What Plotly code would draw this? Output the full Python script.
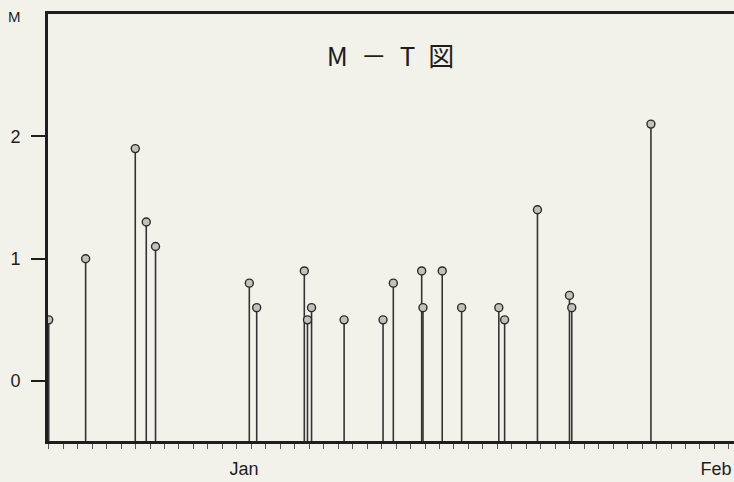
import plotly.graph_objects as go

# days counted from the first minor tick on the time axis
day_list = [0.0, 2.55, 5.98, 6.74, 7.38, 13.86, 14.37, 17.66, 17.88, 18.16,
            20.41, 23.10, 23.81, 25.77, 25.86, 27.19, 28.53, 31.10, 31.50,
            33.77, 35.98, 36.14, 41.61]
mag_list = [0.5, 1.0, 1.9, 1.3, 1.1, 0.8, 0.6, 0.9, 0.5, 0.6,
            0.5, 0.5, 0.8, 0.9, 0.6, 0.9, 0.6, 0.6, 0.5,
            1.4, 0.7, 0.6, 2.1]

month_pos = [13.5, 46.1]
month_text = ["Jan", "Feb"]
m_ticks = [0, 1, 2]

y_bottom = -0.49
y_top = 3.0

# stems from the time axis up to each event
stem_x = []
stem_y = []
for d, m in zip(day_list, mag_list):
    stem_x += [d, d, None]
    stem_y += [y_bottom, m, None]

bg = "#f3f2ea"
ink = "#1e1e1e"

fig = go.Figure()
fig.add_trace(go.Scatter(x=stem_x, y=stem_y, mode="lines",
                         line=dict(color="#333333", width=1.6),
                         hoverinfo="skip", showlegend=False))
fig.add_trace(go.Scatter(x=day_list, y=mag_list, mode="markers",
                         marker=dict(size=8, color="#c2c2bc",
                                     line=dict(color="#2a2a2a", width=1.4)),
                         showlegend=False))

fig.update_layout(
    width=734, height=482,
    margin=dict(l=48, r=0, t=14, b=41),
    paper_bgcolor=bg, plot_bgcolor=bg,
    font=dict(family="Liberation Sans, Arial", color=ink, size=18),
    title=dict(text="M\u2002－\u2002T\u2002図", x=0.532, xanchor="center",
               y=0.882, yanchor="middle",
               font=dict(family="Noto Sans CJK JP", size=26, color=ink)),
    annotations=[dict(text="M", xref="paper", yref="paper", x=-0.049, y=0.995,
                      xanchor="center", yanchor="middle", showarrow=False,
                      font=dict(size=15, color=ink))],
)
fig.update_xaxes(range=[-0.05, 47.35], showgrid=False, zeroline=False,
                 automargin=False,
                 showline=True, linecolor=ink, linewidth=3, mirror=True,
                 tickmode="array", tickvals=month_pos, ticktext=month_text,
                 ticks="", ticklabelstandoff=9,
                 minor=dict(tick0=0, dtick=1, ticks="outside", ticklen=5,
                            tickcolor="#555", tickwidth=1))
fig.update_yaxes(range=[y_bottom, y_top], showgrid=False, zeroline=False,
                 automargin=False,
                 showline=True, linecolor=ink, linewidth=3, mirror=False,
                 tickmode="array", tickvals=m_ticks,
                 ticks="outside", ticklen=14, tickcolor=ink, tickwidth=1.5,
                 ticklabelstandoff=7)

fig.write_html("out.html", config={"displayModeBar": False},
               post_script="document.body.style.margin='0';")
